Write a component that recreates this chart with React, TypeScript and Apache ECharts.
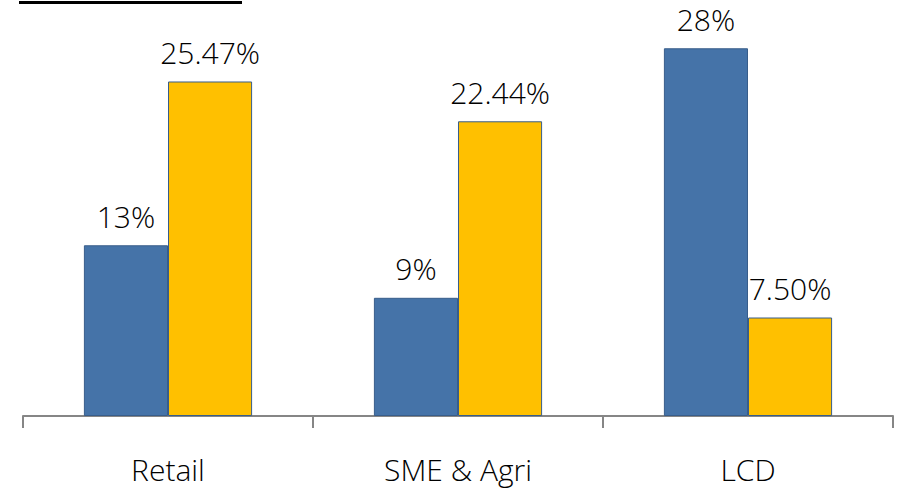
import React, { useEffect, useRef } from "react";
import * as echarts from "echarts";

// Segment names along the category axis
const categories = ["Retail", "SME & Agri", "LCD"];
// Blue series (shown as whole percentages)
const blueValues = [13, 9, 28];
const blueLabels = ["13%", "9%", "28%"];
// Yellow series (shown with two decimals)
const yellowValues = [25.47, 22.44, 7.5];
const yellowLabels = ["25.47%", "22.44%", "7.50%"];

const FONT = "'Open Sans', 'Noto Sans', sans-serif";

export default function App() {
  const ref = useRef<HTMLDivElement>(null);

  useEffect(() => {
    if (!ref.current) return;
    const chart = echarts.init(ref.current, null, { renderer: "svg" });
    const labelStyle = {
      show: true,
      position: "top",
      distance: 14,
      color: "#000000",
      fontSize: 30,
      fontWeight: 350,
      fontFamily: FONT,
    };
    chart.setOption({
      animation: false,
      backgroundColor: "#ffffff",
      grid: { left: 23, right: 6, top: 22, bottom: 76, containLabel: false },
      xAxis: {
        type: "category",
        data: categories,
        boundaryGap: true,
        axisLine: { show: true, lineStyle: { color: "#868686", width: 2 } },
        axisTick: {
          show: true,
          alignWithLabel: false,
          length: 12,
          lineStyle: { color: "#868686", width: 2 },
        },
        axisLabel: {
          color: "#000000",
          fontSize: 30,
          fontWeight: 350,
          fontFamily: FONT,
          margin: 38,
        },
      },
      yAxis: {
        type: "value",
        min: 0,
        max: 30,
        show: false,
        splitLine: { show: false },
      },
      series: [
        {
          type: "bar",
          data: blueValues,
          barGap: "0%",
          barCategoryGap: "42%",
          itemStyle: { color: "#4573a8", borderColor: "#385d8a", borderWidth: 1 },
          label: { ...labelStyle, formatter: (p: any) => blueLabels[p.dataIndex] },
        },
        {
          type: "bar",
          data: yellowValues,
          itemStyle: { color: "#ffc000", borderColor: "#385d8a", borderWidth: 1 },
          label: { ...labelStyle, formatter: (p: any) => yellowLabels[p.dataIndex] },
        },
      ],
      graphic: [
        {
          type: "line",
          shape: { x1: 19, y1: 2.5, x2: 242, y2: 2.5 },
          style: { stroke: "#000000", lineWidth: 3 },
        },
      ],
    });
    return () => chart.dispose();
  }, []);

  return (
    <div
      ref={ref}
      style={{ width: 899, height: 492, position: "absolute", left: 0, top: 0 }}
    />
  );
}
